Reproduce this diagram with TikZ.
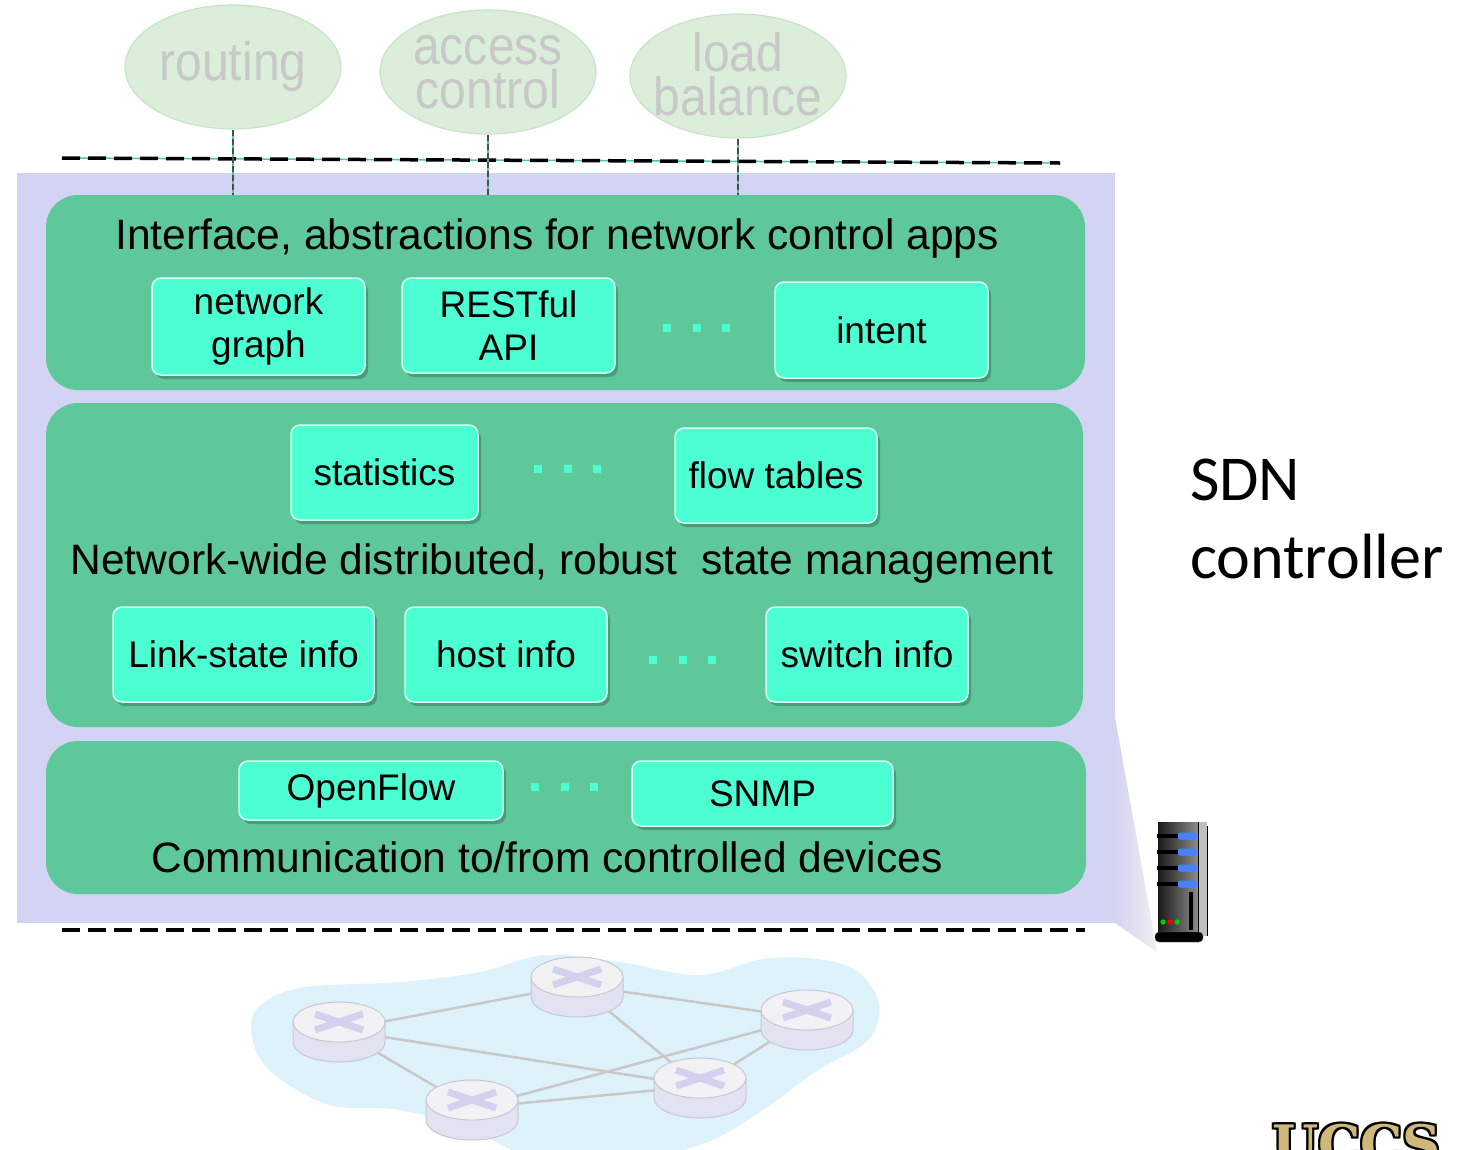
\documentclass[tikz,border=0pt]{standalone}
\usepackage{fontspec}
\setmainfont{Liberation Sans}
\newfontfamily\sdnfont{Carlito}
\newfontfamily\logofont{DejaVu Serif}
\usetikzlibrary{shapes.geometric,shadows}

\definecolor{panelgreen}{RGB}{94,200,154}
\definecolor{boxaqua}{RGB}{76,255,210}
\definecolor{ctrllav}{RGB}{211,211,243}
\definecolor{appgreen}{RGB}{218,238,218}
\definecolor{appedge}{RGB}{200,228,200}
\definecolor{apptext}{RGB}{200,200,200}
\definecolor{cloudblue}{RGB}{222,242,252}
\definecolor{linkgrey}{RGB}{200,200,200}
\definecolor{routertop}{RGB}{242,242,244}
\definecolor{routerside}{RGB}{226,226,240}
\definecolor{routeredge}{RGB}{200,200,212}
\definecolor{routerx}{RGB}{210,210,238}
\definecolor{apiteal}{RGB}{70,205,165}
\definecolor{srvblue}{RGB}{70,130,255}
\definecolor{uccsgold}{RGB}{207,184,124}

% narrow lettering for the app bubbles (zero width so the ellipse keeps its size)
\newcommand{\narrowtxt}[1]{\makebox[0pt]{\scalebox{0.89}[1]{#1}}}

\tikzset{
  panel/.style={fill=panelgreen, rounded corners=32pt, inner sep=0pt},
  modbox/.style={rectangle, rounded corners=9pt, fill=boxaqua, draw=white!75!boxaqua, line width=1.5pt,
    inner sep=0pt, align=center, font=\fontsize{37}{43}\selectfont,
    drop shadow={shadow xshift=3pt, shadow yshift=-4pt, fill=black, opacity=.22}},
  app/.style={ellipse, fill=appgreen, draw=appedge, line width=1.2pt, minimum width=216pt, minimum height=124pt,
    inner sep=0pt, text=apptext, align=center, font=\fontsize{54}{44}\selectfont},
  apiline/.style={dash pattern=on 6pt off 3pt, line width=1.3pt, black!70},
  tierline/.style={dash pattern=on 18pt off 8pt, line width=3.5pt},
  layertitle/.style={font=\fontsize{42.5}{44}\selectfont, inner sep=0pt},
  link/.style={linkgrey, line width=2.5pt},
  router/.pic={
    \draw[fill=routerside, draw=routeredge, line width=1pt] (-46,0) -- (-46,-20) arc[start angle=180, end angle=360, x radius=46, y radius=20] -- (46,0) -- cycle;
    \draw[fill=routertop, draw=routeredge, line width=1pt] (0,0) ellipse[x radius=46, y radius=20];
    \draw[routerx, line width=7pt] (-24,-8) -- (24,8) (-24,8) -- (24,-8);
  },
}

\begin{document}
\begin{tikzpicture}[x=1pt,y=1pt,yscale=-1]
\useasboundingbox (0,0) rectangle (1463,1149);

% controller backdrop and the wedge down to the server
\fill[ctrllav] (17,173) rectangle (1115,923);
\shade[left color=ctrllav, right color=black!6] (1115,717) -- (1157,952) -- (1115,923) -- cycle;

% control apps
\node[app] (routing) at (233,67) {\narrowtxt{routing}};
\node[app] (access) at (488,72) {\narrowtxt{access}\\\narrowtxt{control}};
\node[app] (loadbal) at (738,76) {\raisebox{4pt}{\narrowtxt{load}}\\\raisebox{4pt}{\narrowtxt{balance}}};

% northbound line
\draw[apiteal, line width=1.5pt] (62,158) -- (1060,163);
\draw[tierline] (62,158) -- (1060,163);

% layers
\node[panel, minimum width=1039pt, minimum height=195pt] (iface) at (565.5,292.5) {};
\node[panel, minimum width=1037pt, minimum height=324pt] (state) at (564.5,565) {};
\node[panel, minimum width=1040pt, minimum height=153pt] (comm) at (566,817.5) {};

\foreach \a in {routing,access,loadbal}{
  \draw[apiteal, line width=1.5pt] (\a.south) -- (\a.south |- iface.north);
  \draw[apiline] (\a.south) -- (\a.south |- iface.north);
}

\node[layertitle] (ifacetitle) at (557,239) {Interface, abstractions for network control apps};
\node[modbox, minimum width=213pt, minimum height=97pt] (netgraph) at (258.5,326.5) {network\\graph};
\node[modbox, minimum width=213pt, minimum height=95pt] (restapi) at (508.5,325.5) {RESTful\\API};
\node[modbox, minimum width=213pt, minimum height=96pt] (intent) at (881.5,330) {intent};

\node[modbox, minimum width=187pt, minimum height=95pt] (stats) at (384.5,472.5) {statistics};
\node[modbox, minimum width=202pt, minimum height=95pt] (flowtab) at (776,475.5) {flow tables};
\node[layertitle] (statetitle) at (562,564) {Network-wide distributed, robust\ \ state management};
\node[modbox, minimum width=261pt, minimum height=95pt] (linkstate) at (243.5,654.5) {Link-state info};
\node[modbox, minimum width=202pt, minimum height=95pt] (hostinfo) at (506,654.5) {host info};
\node[modbox, minimum width=202pt, minimum height=95pt] (switchinfo) at (867,654.5) {switch info};

\node[modbox, minimum width=264pt, minimum height=59pt] (openflow) at (371,790.5) {OpenFlow};
\node[modbox, minimum width=261pt, minimum height=65pt] (snmp) at (762.5,793.5) {SNMP};
\node[layertitle] (commtitle) at (547,857) {Communication to/from controlled devices};

% ellipsis dots between modules
\foreach \y/\xa in {328/667, 469/538, 660/653, 787/535}
  \foreach \k in {0,1,2}
    \fill[boxaqua] ({\xa+29.5*\k-4},\y-4) rectangle ++(8,8);

% southbound line
\draw[tierline] (62,930) -- (1085,930);

\node[font=\sdnfont\fontsize{64}{78}\selectfont, anchor=base west, inner sep=0pt] (sdn) at (1190,500) {SDN};
\node[font=\sdnfont\fontsize{64}{78}\selectfont, anchor=base west, inner sep=0pt] (ctrl) at (1190,578) {controller};

% server box
\shade[left color=black!90, right color=black!45] (1158,822) rectangle (1198,935);
\fill[black!25] (1198,822) rectangle (1207,936);
\draw[black, line width=1pt] (1198,822) -- (1198,936) (1207,826) -- (1207,936);
\foreach \y in {836,852,868,884}{
  \fill[black] (1157,\y-2) rectangle (1182,\y+2);
  \fill[srvblue, rounded corners=2pt] (1178,\y-3.5) rectangle (1197,\y+3.5);
}
\fill[black] (1189,892) rectangle (1193,930);
\fill[green!80!black] (1163,922) circle (2.6);
\fill[red] (1170,922) circle (2.6);
\fill[green!80!black] (1177,922) circle (2.6);
\draw[black!60, fill=black, rounded corners=4pt] (1155,932) rectangle (1203,942);

% data plane
\fill[cloudblue] plot[smooth cycle, tension=0.6] coordinates {
  (256,1010) (300,988) (400,982) (480,972) (545,955) (620,962) (700,975) (770,958) (845,965)
  (878,1000) (868,1040) (815,1072) (760,1112) (700,1145) (620,1160) (540,1160) (470,1130)
  (400,1110) (330,1105) (275,1075) (254,1045)};

\coordinate (r1) at (339,1030);
\coordinate (r2) at (577,985);
\coordinate (r3) at (807,1018);
\coordinate (r4) at (472,1108);
\coordinate (r5) at (700,1086);
\draw[link] (r1) -- (r2);
\draw[link] (r2) -- (r3);
\draw[link] (r1) -- (r5);
\draw[link] (r1) -- (r4);
\draw[link] (r4) -- (r5);
\draw[link] (r4) -- (r3);
\draw[link] (r2) -- (r5);
\draw[link] (r3) -- (r5);
\pic at (339,1022) {router};
\pic at (577,977) {router};
\pic at (807,1010) {router};
\pic at (472,1100) {router};
\pic at (700,1078) {router};

% campus logo
\foreach \dx/\dy in {-2/0,2/0,0/-2,0/2,-2/-2,2/2,-2/2,2/-2}
  \node[font=\logofont\bfseries\fontsize{53}{53}\selectfont, text=black, anchor=north west, inner sep=0pt] (uccsedge) at (1272+\dx,1124+\dy) {UCCS};
\node[font=\logofont\bfseries\fontsize{53}{53}\selectfont, text=uccsgold, anchor=north west, inner sep=0pt] (uccs) at (1272,1124) {UCCS};
\end{tikzpicture}
\end{document}
